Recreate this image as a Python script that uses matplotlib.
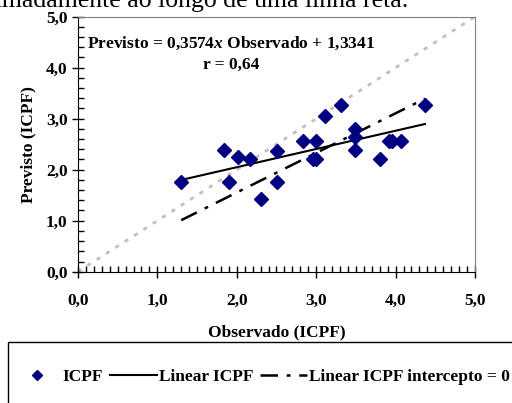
import numpy as np
import matplotlib.pyplot as plt
from matplotlib.lines import Line2D
from matplotlib.patches import Rectangle
from matplotlib.ticker import MultipleLocator

# --- DADOS ---
observado = [1.30, 1.84, 1.90, 2.01, 2.17, 2.30, 2.51, 2.51, 2.83, 2.96, 3.00,
             3.00, 3.11, 3.31, 3.49, 3.49, 3.49, 3.80, 3.92, 3.96, 4.07, 4.37]
previsto = [1.76, 2.38, 1.76, 2.25, 2.20, 1.42, 2.37, 1.76, 2.56, 2.20, 2.56,
            2.20, 3.05, 3.26, 2.80, 2.65, 2.39, 2.20, 2.56, 2.56, 2.56, 3.26]
coef_a = 0.3574
coef_b = 1.3341
r_valor = "0,64"
rotulos_legenda = ["ICPF", "Linear ICPF", "Linear ICPF intercepto = 0"]

obs = np.array(observado)
prev = np.array(previsto)

# regressão sem intercepto
slope0 = np.sum(obs * prev) / np.sum(obs * obs)

plt.rcParams['font.family'] = ['Liberation Serif', 'DejaVu Serif']
plt.rcParams['font.weight'] = 'bold'
plt.rcParams['mathtext.fontset'] = 'custom'
plt.rcParams['mathtext.it'] = 'Liberation Serif:bold:italic'
plt.rcParams['mathtext.rm'] = 'Liberation Serif:bold'

FS = 12.5
DASHDOT = (0, (7, 3.5, 1.5, 3.5))

fig = plt.figure(figsize=(5.12, 4.03), dpi=100)
ax = fig.add_axes([0.1523, 0.3258, 0.7754, 0.6328])

# linha 1:1
ax.plot([0, 5], [0, 5], color='#c0c0c0', lw=2, linestyle=(0, (1.5, 2.5)), zorder=1)

xs = np.array([obs.min(), obs.max()])
ax.plot(xs, coef_a * xs + coef_b, color='black', lw=1.5, zorder=2)
ax.plot(xs, slope0 * xs, color='black', lw=1.8, linestyle=DASHDOT, zorder=2)
ax.plot(obs, prev, linestyle='none', marker='D', color='#000080', markersize=7, zorder=3)

ax.set_xlim(0, 5)
ax.set_ylim(0, 5)
ax.xaxis.set_major_locator(MultipleLocator(1))
ax.xaxis.set_minor_locator(MultipleLocator(0.1))
ax.yaxis.set_major_locator(MultipleLocator(1))
ax.yaxis.set_minor_locator(MultipleLocator(0.2))
fmt = lambda v, p: f"{v:.1f}".replace('.', ',')
ax.xaxis.set_major_formatter(plt.FuncFormatter(fmt))
ax.yaxis.set_major_formatter(plt.FuncFormatter(fmt))

ax.tick_params(which='major', direction='inout', length=9, width=1, labelsize=FS)
ax.tick_params(which='minor', direction='in', length=4, width=1)
ax.tick_params(axis='x', which='major', pad=11)
ax.tick_params(axis='y', which='major', pad=3)

for s in ['top', 'right']:
    ax.spines[s].set_color('#808080')

ax.set_xlabel("Observado (ICPF)", fontsize=FS, fontweight='bold', labelpad=11)
ax.set_ylabel("Previsto (ICPF)", fontsize=FS, fontweight='bold', labelpad=7)

eq = (f"Previsto = {coef_a:.4f}$x$ Observado + {coef_b:.4f}").replace('.', ',')
ax.text(0.385, 0.895, eq, transform=ax.transAxes, fontsize=FS,
        ha='center', va='center', fontweight='bold')
ax.text(0.385, 0.81, f"r = {r_valor}", transform=ax.transAxes, fontsize=FS,
        ha='center', va='center', fontweight='bold')

# texto do documento cortado no topo
fig.text(408 / 512, 1 - 7 / 403, "aproximadamente ao longo de uma linha reta.",
         fontsize=18.5, ha='right', va='baseline', fontweight='normal')

# caixa da legenda
fig.patches.append(Rectangle((8 / 512, -0.1), 1.0, (403 - 342) / 403 + 0.1,
                             transform=fig.transFigure, fill=False,
                             edgecolor='black', lw=1))
handles = [
    Line2D([], [], linestyle='none', marker='D', color='#000080', markersize=5),
    Line2D([], [], color='black', lw=1.5),
    Line2D([], [], color='black', lw=1.8, linestyle=DASHDOT),
]
fig.legend(handles, rotulos_legenda, loc='center left',
           bbox_to_anchor=(14 / 512, 1 - 377 / 403),
           ncol=3, frameon=False, fontsize=FS, handlelength=2.7, handletextpad=0.1,
           columnspacing=0.4, borderpad=0, borderaxespad=0)

fig.savefig("out.png", dpi=100)
